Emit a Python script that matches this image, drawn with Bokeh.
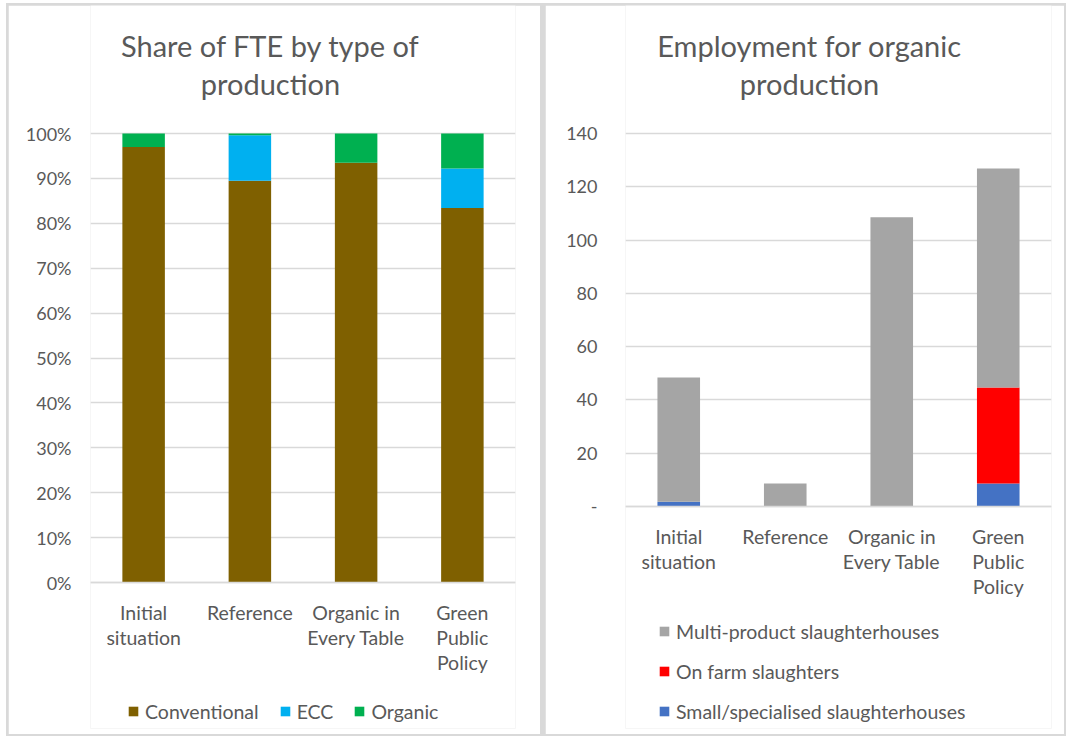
from bokeh.plotting import figure
from bokeh.layouts import row
from bokeh.models import (FactorRange, Range1d, FixedTicker, PrintfTickFormatter,
                          Legend, LegendItem, Label, ColumnDataSource)
from bokeh.embed import file_html
from bokeh.resources import INLINE

# ---------------- data ----------------
categories = ["Initial\nsituation", "Reference", "Organic in\nEvery Table", "Green\nPublic\nPolicy"]

# Share of FTE by type of production (%)
conventional = [97.0, 89.5, 93.5, 83.4]
ecc = [0.0, 10.1, 0.0, 8.8]
organic = [3.0, 0.4, 6.5, 7.8]

# Employment for organic production
small_specialised = [1.8, 0.0, 0.0, 8.6]
on_farm = [0.0, 0.0, 0.0, 36.1]
multi_product = [46.6, 8.6, 108.6, 82.2]

share_ticks = [0, 10, 20, 30, 40, 50, 60, 70, 80, 90, 100]
employment_ticks = [0, 20, 40, 60, 80, 100, 120, 140]

# ---------------- styling ----------------
FONT = "Lato"
TXT = "#595959"
GRID = "#d9d9d9"
TICK_SIZE = "18px"
CAT_SIZE = "19.5px"
LEG_SIZE = "19.5px"
TITLE_SIZE = "29px"

# page geometry (px)
FIG_TOP = 5
FIG_H = 729
FRAME_BOTTOM = 728   # frames span the whole panel height; value axis placed via ranges
TITLE_BASELINES = (45, 83)


def style_axes(p, ystandoff):
    p.xgrid.visible = False
    p.ygrid.grid_line_color = GRID
    p.ygrid.grid_line_width = 1.5
    p.outline_line_color = None
    p.background_fill_color = "white"
    p.border_fill_color = "white"
    xa = p.xaxis[0]
    xa.fixed_location = 0
    xa.axis_line_color = GRID
    xa.axis_line_width = 1.5
    xa.major_tick_line_color = None
    xa.minor_tick_line_color = None
    xa.major_label_text_font = FONT
    xa.major_label_text_font_size = CAT_SIZE
    xa.major_label_text_color = TXT
    xa.major_label_standoff = 12
    xa.major_label_text_line_height = 1.1
    ya = p.yaxis[0]
    ya.axis_line_color = None
    ya.major_tick_line_color = None
    ya.minor_tick_line_color = None
    ya.major_label_text_font = FONT
    ya.major_label_text_font_size = TICK_SIZE
    ya.major_label_text_color = TXT
    ya.major_label_standoff = ystandoff


def legend_box(items, loc, orientation):
    return Legend(items=items, location=loc, orientation=orientation,
                  border_line_color=None, background_fill_alpha=0,
                  padding=0, margin=0, spacing=16 if orientation == "vertical" else 20,
                  glyph_width=12, glyph_height=12,
                  label_standoff=6, label_height=24, label_text_font=FONT,
                  label_text_font_size=LEG_SIZE, label_text_color=TXT)


class Chart:
    def __init__(self, left_px, width, frame_l, frame_r, top_px, zero_y, vmax):
        self.frame_l = frame_l
        self.zero_y = zero_y
        self.ppu = (zero_y - top_px) / vmax          # pixels per value unit
        y_start = -(FRAME_BOTTOM - zero_y) / self.ppu
        y_end = vmax + (top_px - FIG_TOP) / self.ppu
        self.p = figure(x_range=FactorRange(*categories), y_range=Range1d(y_start, y_end),
                        width=width, height=FIG_H, output_backend="svg", toolbar_location=None,
                        min_border_left=frame_l - left_px,
                        min_border_right=left_px + width - frame_r,
                        min_border_top=0,
                        min_border_bottom=FIG_TOP + FIG_H - FRAME_BOTTOM)

    def title(self, lines, center_px):
        for txt, base in zip(lines, TITLE_BASELINES):
            self.p.add_layout(Label(x=center_px - self.frame_l, x_units="screen",
                                    y=(self.zero_y - base) / self.ppu, y_units="data",
                                    text=txt, text_align="center", text_baseline="alphabetic",
                                    text_font=FONT, text_font_size=TITLE_SIZE,
                                    text_color=TXT))


# ---------------- left chart ----------------
c1 = Chart(8, 532, 90, 515, 133, 582, 100)
p1 = c1.p
src1 = ColumnDataSource(dict(cat=categories, conventional=conventional, ecc=ecc, organic=organic))
r1 = p1.vbar_stack(["conventional", "ecc", "organic"], x="cat", width=0.4, source=src1,
                   fill_color=["#7F6000", "#00B0F0", "#00B050"], line_color=None)
style_axes(p1, 13)
p1.yaxis[0].ticker = FixedTicker(ticks=share_ticks)
p1.yaxis[0].formatter = PrintfTickFormatter(format="%d%%")
p1.ygrid[0].ticker = FixedTicker(ticks=share_ticks)
c1.title(["Share of FTE by type of", "production"], 270)
leg1 = legend_box([LegendItem(label="Conventional", renderers=[r1[0]]),
                   LegendItem(label="ECC", renderers=[r1[1]]),
                   LegendItem(label="Organic", renderers=[r1[2]])],
                  (127 - 90, FRAME_BOTTOM - 723), "horizontal")
p1.add_layout(leg1, "center")

# ---------------- right chart ----------------
c2 = Chart(545, 519, 625, 1051, 133, 506, 140)
p2 = c2.p
src2 = ColumnDataSource(dict(cat=categories, small=small_specialised, farm=on_farm, multi=multi_product))
r2 = p2.vbar_stack(["small", "farm", "multi"], x="cat", width=0.4, source=src2,
                   fill_color=["#4472C4", "#FF0000", "#A5A5A5"], line_color=None)
style_axes(p2, 22)
p2.yaxis[0].ticker = FixedTicker(ticks=employment_ticks)
p2.yaxis[0].major_label_overrides = {0: "-"}
p2.ygrid[0].ticker = FixedTicker(ticks=employment_ticks)
c2.title(["Employment for organic", "production"], 809)
leg2 = legend_box([LegendItem(label="Multi-product slaughterhouses", renderers=[r2[2]]),
                   LegendItem(label="On farm slaughters", renderers=[r2[1]]),
                   LegendItem(label="Small/specialised slaughterhouses", renderers=[r2[0]])],
                  (658 - 625, FRAME_BOTTOM - 723), "vertical")
p2.add_layout(leg2, "center")

layout = row(p1, p2, spacing=5,
             styles={"background-color": GRID, "padding": "2px", "margin": "3px 0 0 6px"})

open("out.html", "w").write(file_html(layout, INLINE))
